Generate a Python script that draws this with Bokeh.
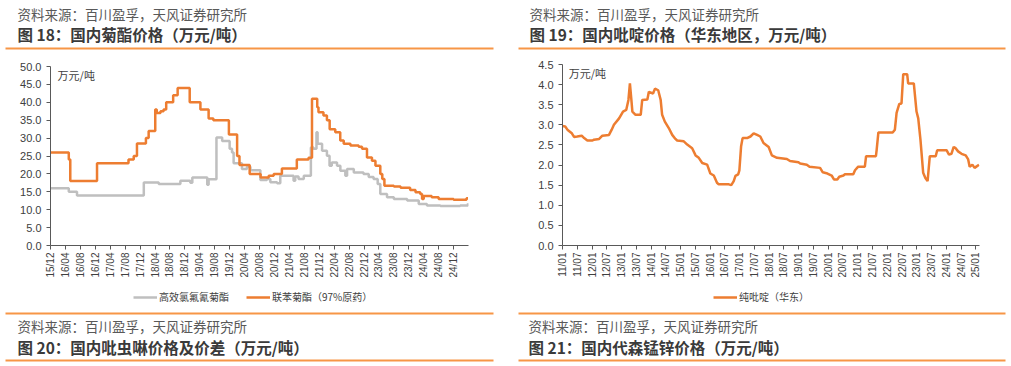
import math
from bokeh.plotting import figure
from bokeh.models import (Range1d, FixedTicker, NumeralTickFormatter, Label,
                          BoxAnnotation, Legend, LegendItem)
from bokeh.layouts import column, row
from bokeh.embed import file_html
from bokeh.resources import INLINE

CJK = "Noto Sans CJK SC"
LAT = "Liberation Sans"
SERIES_ORANGE = "#ED7D31"
SERIES_GRAY = "#BFBFBF"
RULE = "#F79646"
AXIS = "#595959"
TXT = "#404040"

# ---------------- texts ----------------
source_text = "资料来源：百川盈孚，天风证券研究所"
title18 = "图 18：国内菊酯价格（万元/吨）"
title19 = "图 19：国内吡啶价格（华东地区，万元/吨）"
title20 = "图 20：国内吡虫啉价格及价差（万元/吨）"
title21 = "图 21：国内代森锰锌价格（万元/吨）"
unit_text = "万元/吨"

# ---------------- chart 18 data (step series) ----------------
c18_series = ["高效氯氟氰菊酯", "联苯菊酯（97%原药）"]
c18_ticks = ["15/12", "16/04", "16/08", "16/12", "17/04", "17/08", "17/12",
             "18/04", "18/08", "18/12", "19/04", "19/08", "19/12", "20/04",
             "20/08", "20/12", "21/04", "21/08", "21/12", "22/04", "22/08",
             "22/12", "23/04", "23/08", "23/12", "24/04", "24/08", "24/12"]
c18_yticks = [0, 5, 10, 15, 20, 25, 30, 35, 40, 45, 50]

lambda_dates = ["2015-12-01", "2016-04-28", "2016-07-04", "2018-01-01", "2018-05-01",
                "2018-10-25", "2019-01-15", "2019-02-01", "2019-06-01", "2019-06-12",
                "2019-08-15", "2019-10-01", "2019-12-01", "2019-12-20", "2020-01-03",
                "2020-03-10", "2020-04-20", "2020-05-18", "2020-08-08", "2020-10-01",
                "2020-10-28", "2020-12-22", "2021-01-18", "2021-04-10", "2021-05-05",
                "2021-05-18", "2021-06-15", "2021-07-27", "2021-09-24", "2021-10-15",
                "2021-11-09", "2021-11-18", "2021-12-24", "2022-02-03", "2022-02-24",
                "2022-03-12", "2022-04-24", "2022-05-21", "2022-07-01", "2022-07-15",
                "2022-09-09", "2022-11-27", "2023-01-09", "2023-02-18", "2023-03-21",
                "2023-04-12", "2023-06-06", "2023-08-01", "2023-11-18", "2024-02-21",
                "2024-04-27", "2024-08-15", "2025-01-24", "2025-03-27"]
lambda_vals = [16.0, 15.0, 14.0, 17.6, 17.2,
               18.1, 17.5, 19.0, 17.0, 18.5,
               30.2, 29.2, 27.0, 26.0, 23.0,
               21.4, 22.0, 21.0, 18.3, 18.6,
               17.7, 17.4, 19.5, 19.5, 18.1,
               19.3, 18.6, 19.5, 27.4, 27.0,
               31.6, 28.4, 26.5, 25.1, 22.3,
               23.2, 22.3, 20.9, 19.5, 21.4,
               20.4, 20.0, 19.1, 18.6, 17.2,
               14.4, 13.5, 13.0, 12.6, 11.6,
               11.2, 11.0, 11.2, 11.8]

bifen_dates = ["2015-12-01", "2016-04-28", "2016-05-10", "2016-12-15", "2017-08-28",
               "2017-10-10", "2017-11-06", "2018-01-18", "2018-02-10", "2018-04-03",
               "2018-04-15", "2018-05-15", "2018-06-10", "2018-07-01", "2018-08-27",
               "2018-10-03", "2019-01-10", "2019-04-06", "2019-06-12", "2019-07-20",
               "2019-11-25", "2020-02-01", "2020-02-20", "2020-05-12", "2020-08-10",
               "2020-10-15", "2020-11-25", "2021-02-01", "2021-06-01", "2021-09-05",
               "2021-10-03", "2021-11-15", "2021-11-25", "2022-01-05", "2022-02-03",
               "2022-02-25", "2022-04-10", "2022-05-20", "2022-06-18", "2022-08-12",
               "2022-10-18", "2022-11-15", "2022-12-25", "2023-02-05", "2023-03-03",
               "2023-04-12", "2023-04-28", "2023-05-15", "2023-08-01", "2023-09-25",
               "2023-12-12", "2024-01-25", "2024-03-03", "2024-03-18", "2024-04-01",
               "2024-06-05", "2024-08-01", "2024-12-01", "2025-03-15", "2025-03-27"]
bifen_vals = [26.0, 24.0, 18.0, 23.0, 24.0,
              25.0, 28.5, 30.0, 32.0, 38.0,
              37.0, 37.5, 38.0, 40.0, 42.0,
              44.0, 40.0, 38.0, 35.5, 35.0,
              31.0, 25.0, 22.5, 20.0, 19.0,
              19.5, 20.0, 21.5, 24.0, 24.5,
              41.0, 38.6, 37.2, 36.3, 35.0,
              32.5, 31.6, 29.3, 28.4, 27.9,
              27.6, 27.0, 24.6, 23.7, 22.3,
              20.0, 18.6, 16.7, 16.5, 16.1,
              15.5, 14.9, 14.4, 13.0, 13.8,
              13.5, 13.0, 12.8, 13.2, 13.2]

# ---------------- chart 19 data ----------------
c19_series = ["纯吡啶（华东）"]
c19_ticks = ["11/01", "11/07", "12/01", "12/07", "13/01", "13/07", "14/01", "14/07",
             "15/01", "15/07", "16/01", "16/07", "17/01", "17/07", "18/01", "18/07",
             "19/01", "19/07", "20/01", "20/07", "21/01", "21/07", "22/01", "22/07",
             "23/01", "23/07", "24/01", "24/07", "25/01"]
c19_yticks = [0, 0.5, 1.0, 1.5, 2.0, 2.5, 3.0, 3.5, 4.0, 4.5]

pyr_dates = ["2011-01-01", "2011-02-04", "2011-03-01", "2011-04-01", "2011-04-25",
             "2011-05-22", "2011-07-01", "2011-08-25", "2011-09-25", "2011-11-04",
             "2012-01-07", "2012-01-25", "2012-03-28", "2012-05-07", "2012-07-28",
             "2012-09-01", "2012-09-28", "2012-12-01", "2013-01-19", "2013-02-28",
             "2013-03-25", "2013-04-13", "2013-05-01", "2013-05-13", "2013-06-22",
             "2013-08-25", "2013-09-13", "2013-11-16", "2013-12-04", "2014-01-25",
             "2014-02-19", "2014-03-28", "2014-04-28", "2014-05-16", "2014-06-19",
             "2014-08-07", "2014-09-19", "2014-10-28", "2014-11-19", "2015-02-10",
             "2015-03-22", "2015-05-22", "2015-07-04", "2015-08-13", "2015-09-25",
             "2015-11-25", "2016-01-04", "2016-02-16", "2016-03-25", "2016-04-16",
             "2016-08-19", "2016-09-19", "2016-10-19", "2016-11-10", "2016-12-13",
             "2016-12-28", "2017-01-19", "2017-02-07", "2017-04-01", "2017-05-13",
             "2017-06-22", "2017-08-04", "2017-09-13", "2017-10-22", "2017-12-25",
             "2018-02-04", "2018-04-07", "2018-08-07", "2018-09-16", "2018-12-28",
             "2019-01-19", "2019-04-10", "2019-05-13", "2019-09-22", "2019-10-25",
             "2019-12-22", "2020-02-13", "2020-03-13", "2020-04-22", "2020-05-16",
             "2020-07-07", "2020-07-25", "2020-11-07", "2020-11-28", "2021-01-07",
             "2021-03-28", "2021-04-13", "2021-08-13", "2021-08-22", "2021-09-13",
             "2022-03-07", "2022-04-04", "2022-04-25", "2022-05-28", "2022-06-25",
             "2022-07-16", "2022-09-04", "2022-09-16", "2022-11-25", "2022-12-28",
             "2023-01-19", "2023-02-16", "2023-03-19", "2023-04-16", "2023-05-13",
             "2023-06-10", "2023-08-22", "2023-09-10", "2024-01-04", "2024-02-04",
             "2024-03-04", "2024-04-01", "2024-04-25", "2024-05-25", "2024-07-07",
             "2024-08-28", "2024-09-28", "2024-10-16", "2024-11-19", "2024-12-16",
             "2025-02-10"]
pyr_vals = [2.97, 2.96, 2.88, 2.83, 2.79,
            2.70, 2.71, 2.73, 2.67, 2.61,
            2.61, 2.63, 2.65, 2.73, 2.75,
            2.88, 3.00, 3.16, 3.33, 3.37,
            3.62, 4.03, 3.62, 3.33, 3.25,
            3.25, 3.62, 3.63, 3.82, 3.78,
            3.90, 3.86, 3.62, 3.25, 3.08,
            2.92, 2.75, 2.65, 2.61, 2.59,
            2.51, 2.42, 2.24, 2.18, 2.05,
            2.01, 1.79, 1.74, 1.56, 1.52,
            1.52, 1.50, 1.60, 1.73, 1.77,
            1.87, 2.47, 2.67, 2.67, 2.71,
            2.79, 2.75, 2.71, 2.55, 2.45,
            2.24, 2.18, 2.15, 2.10, 2.07,
            2.04, 2.01, 1.96, 1.93, 1.82,
            1.79, 1.74, 1.64, 1.64, 1.71,
            1.74, 1.77, 1.77, 1.87, 1.96,
            1.96, 2.22, 2.22, 2.38, 2.81,
            2.81, 2.88, 3.30, 3.52, 3.53,
            4.26, 4.26, 4.03, 4.03, 3.33,
            3.16, 2.63, 1.81, 1.68, 1.60,
            2.22, 2.22, 2.37, 2.37, 2.26,
            2.28, 2.45, 2.42, 2.34, 2.28,
            2.24, 2.14, 1.96, 2.01, 1.93,
            2.01]


def months_from(s, y0, m0):
    y, m, d = (int(t) for t in s.split("-"))
    return (y - y0) * 12 + (m - m0) + (d - 1) / 30.0


def tick_month(lbl, y0, m0):
    yy, mm = (int(t) for t in lbl.split("/"))
    return (2000 + yy - y0) * 12 + (mm - m0)


def style_axes(p, xticks, xlabels, yticks):
    p.xgrid.visible = False
    p.ygrid.visible = False
    for ax in (p.xaxis[0], p.yaxis[0]):
        ax.axis_line_color = AXIS
        ax.axis_line_width = 1
        ax.major_tick_line_color = AXIS
        ax.major_tick_in = 0
        ax.major_tick_out = 4
        ax.minor_tick_line_color = None
        ax.major_label_text_font = LAT
        ax.major_label_text_color = TXT
    p.xaxis.ticker = FixedTicker(ticks=xticks)
    p.xaxis.major_label_overrides = {t: l for t, l in zip(xticks, xlabels)}
    p.xaxis.major_label_orientation = math.pi / 2
    p.xaxis.major_label_text_font_size = "10px"
    p.xaxis.major_label_standoff = 3
    p.yaxis.ticker = FixedTicker(ticks=yticks)
    p.yaxis.formatter = NumeralTickFormatter(format="0.0")
    p.yaxis.major_label_text_font_size = "11px"
    p.yaxis.major_label_standoff = 5


def legend_strip(width, left_px, entries):
    """A thin figure that only holds a chart's legend; its swatch renderers
    sit outside the strip's visible range and share the series' styles."""
    s = figure(width=width, height=30, x_range=Range1d(0, 1), y_range=Range1d(0, 1),
               toolbar_location=None, output_backend="svg", min_border=0, title=None,
               x_axis_type=None, y_axis_type=None, outline_line_color=None)
    s.xgrid.visible = False
    s.ygrid.visible = False
    items = []
    for label, color in entries:
        r = s.line(x=[5, 6], y=[5, 6], line_color=color, line_width=2.5)
        items.append(LegendItem(label=label, renderers=[r]))
    leg = Legend(items=items, orientation="horizontal", location=(left_px, 6))
    leg.border_line_color = None
    leg.background_fill_alpha = 0
    leg.label_text_font = CJK
    leg.label_text_font_size = "10px"
    leg.label_text_color = TXT
    leg.glyph_width = 24
    leg.glyph_height = 14
    leg.label_height = 14
    leg.label_standoff = 2
    leg.spacing = 17
    leg.padding = 2
    leg.margin = 0
    s.add_layout(leg)
    return s


# ---------------- header ----------------
hdr = figure(width=1011, height=50, x_range=Range1d(0, 1011), y_range=Range1d(50, 0),
             toolbar_location=None, output_backend="svg", min_border=0, title=None,
             x_axis_type=None, y_axis_type=None, outline_line_color=None)
hdr.xgrid.visible = False
hdr.ygrid.visible = False
for (x0, x1, xt, ttl) in [(5, 493, 17, title18), (518, 1005, 529, title19)]:
    hdr.add_layout(Label(x=xt, y=13.5, text=source_text, text_font=CJK,
                         text_font_size="13.5px", text_color="#595959",
                         text_baseline="middle", text_align="left"))
    hdr.add_layout(Label(x=xt, y=33.5, text=ttl, text_font=CJK, text_font_style="bold",
                         text_font_size="15.5px", text_color="#3A3A3A",
                         text_baseline="middle", text_align="left"))
    hdr.add_layout(BoxAnnotation(left=x0, right=x1, top=47, bottom=49,
                                 fill_color=RULE, fill_alpha=1, line_color=None))

# ---------------- chart 18 ----------------
x18t = [tick_month(l, 2015, 12) for l in c18_ticks]
p1 = figure(width=505, height=230, x_range=Range1d(0, 112), y_range=Range1d(0, 50),
            toolbar_location=None, output_backend="svg", title=None,
            min_border_left=50, min_border_right=37, min_border_top=16, min_border_bottom=35,
            outline_line_color=None)
r_l = p1.step([months_from(d, 2015, 12) for d in lambda_dates], lambda_vals,
              mode="after", line_color=SERIES_GRAY, line_width=2.5)
r_b = p1.step([months_from(d, 2015, 12) for d in bifen_dates], bifen_vals,
              mode="after", line_color=SERIES_ORANGE, line_width=2.5)
style_axes(p1, x18t, c18_ticks, c18_yticks)
p1.add_layout(Label(x=1.9, y=47.6, text=unit_text, text_font=CJK, text_font_size="11px",
                    text_color=TXT, text_baseline="middle", text_align="left"))
lg1 = legend_strip(505, 83, [(c18_series[0], SERIES_GRAY), (c18_series[1], SERIES_ORANGE)])

# ---------------- chart 19 ----------------
x19t = [tick_month(l, 2011, 1) for l in c19_ticks]
p2 = figure(width=506, height=230, x_range=Range1d(0, 169.5), y_range=Range1d(0, 4.5),
            toolbar_location=None, output_backend="svg", title=None,
            min_border_left=57, min_border_right=32, min_border_top=14, min_border_bottom=34,
            outline_line_color=None)
r_p = p2.line([months_from(d, 2011, 1) for d in pyr_dates], pyr_vals,
              line_color=SERIES_ORANGE, line_width=2.5)
style_axes(p2, x19t, c19_ticks, c19_yticks)
p2.add_layout(Label(x=2.5, y=4.28, text=unit_text, text_font=CJK, text_font_size="11px",
                    text_color=TXT, text_baseline="middle", text_align="left"))
lg2 = legend_strip(506, 151, [(c19_series[0], SERIES_ORANGE)])

# ---------------- footer ----------------
ftr = figure(width=1011, height=56, x_range=Range1d(0, 1011), y_range=Range1d(366, 310),
             toolbar_location=None, output_backend="svg", min_border=0, title=None,
             x_axis_type=None, y_axis_type=None, outline_line_color=None)
ftr.xgrid.visible = False
ftr.ygrid.visible = False
for (x0, x1, xt, ttl) in [(5, 493, 17, title20), (518, 1005, 528, title21)]:
    ftr.add_layout(BoxAnnotation(left=x0, right=x1, top=312, bottom=314,
                                 fill_color=RULE, fill_alpha=1, line_color=None))
    ftr.add_layout(Label(x=xt, y=325, text=source_text, text_font=CJK,
                         text_font_size="13.5px", text_color="#595959",
                         text_baseline="middle", text_align="left"))
    ftr.add_layout(Label(x=xt, y=346, text=ttl, text_font=CJK, text_font_style="bold",
                         text_font_size="15.5px", text_color="#3A3A3A",
                         text_baseline="middle", text_align="left"))
    ftr.add_layout(BoxAnnotation(left=x0, right=x1, top=359, bottom=361,
                                 fill_color=RULE, fill_alpha=1, line_color=None))

layout = column(hdr, row(column(p1, lg1), column(p2, lg2)), ftr)
open("out.html", "w").write(file_html(layout, INLINE))
